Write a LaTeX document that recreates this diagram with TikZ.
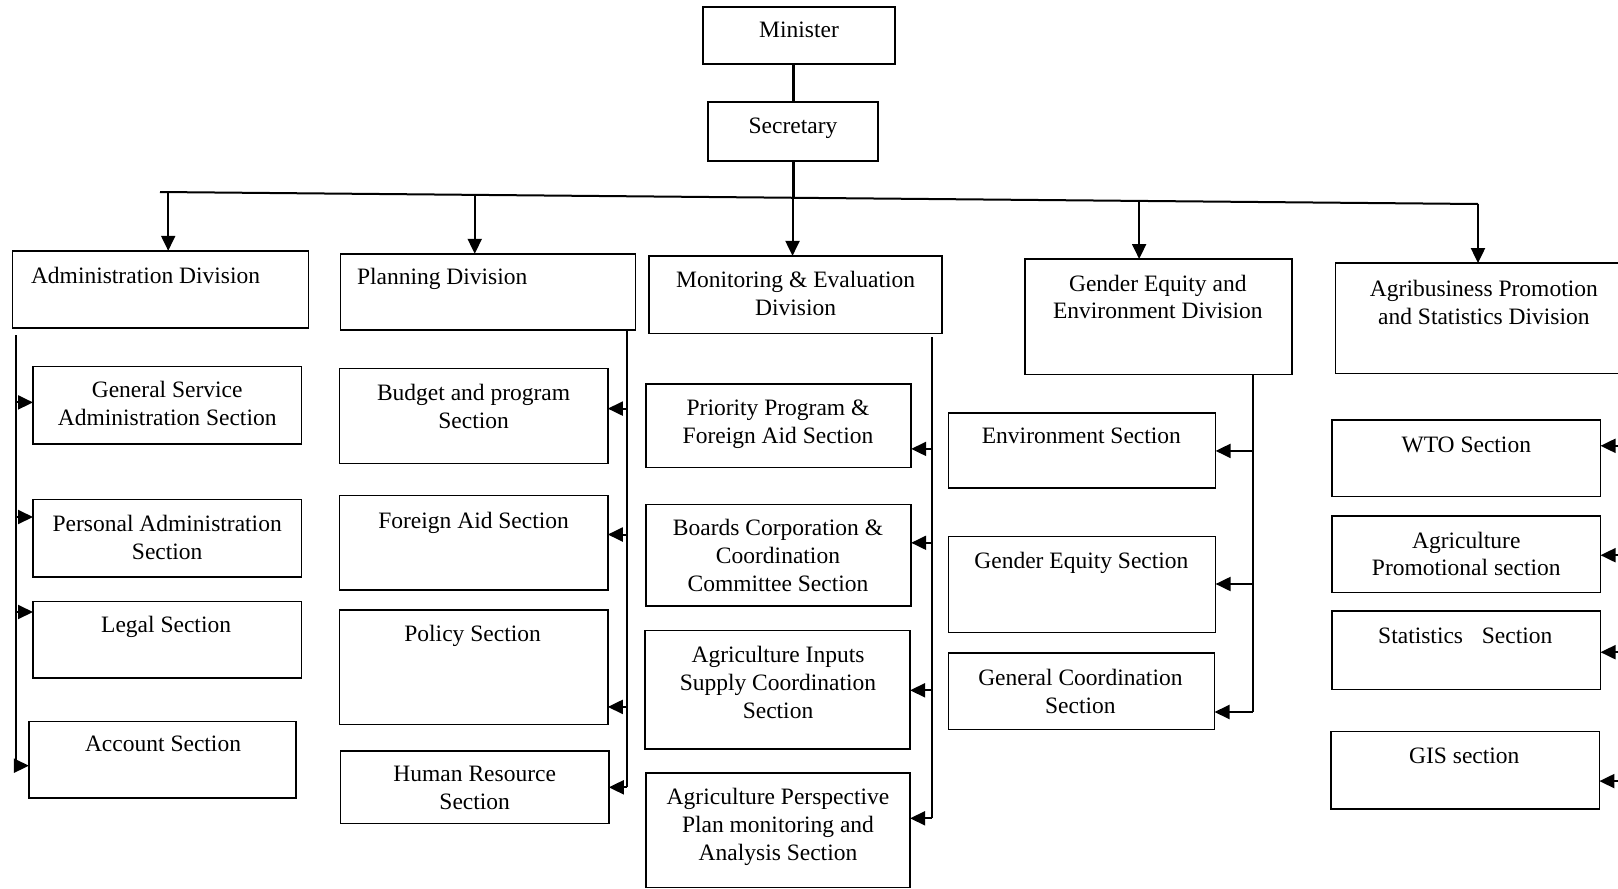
\documentclass[tikz,border=0pt]{standalone}
\usepackage{fontspec}
\setmainfont{Liberation Serif}
\usetikzlibrary{arrows.meta,calc}
\tikzset{
  boxst/.style={draw=black, line width=1.6pt, inner sep=0pt, outer sep=0pt},
  txt/.style={font=\fontsize{23.5}{27.9}\selectfont, align=center, inner sep=0pt, outer sep=0pt},
  ln/.style={line width=2pt},
  thick trunk/.style={line width=3pt},
  arr/.style={line width=2pt, -{Triangle[length=15pt,width=14pt]}},
}
% name, x1, y1, x2, y2, text x, text top y, text
\newcommand{\bx}[8]{%
  \node[boxst, anchor=north west, minimum width={(#4)-(#2)}, minimum height={(#5)-(#3)}] (#1) at (#2,#3) {};
  \node[txt, anchor=north] (#1t) at (#6,#7) {#8};
}
\begin{document}
\begin{tikzpicture}[x=1pt,y=-1pt]
\path[use as bounding box, fill=white] (0,0) rectangle (1618,889);

% top
\bx{min}{703}{7}{895}{64}{799}{22}{Minister}
\bx{sec}{708}{102}{878}{161}{793}{118}{Secretary}

% divisions
\node[boxst, anchor=north west, minimum width=296, minimum height=77] (adm) at (12.4,250.8) {};
\node[txt, anchor=north west] (admt) at (31,267.5) {Administration Division};
\node[boxst, anchor=north west, minimum width=295, minimum height=76.4] (pln) at (340.5,253.8) {};
\node[txt, anchor=north west] (plnt) at (357,268.5) {Planning Division};
\bx{mne}{649}{255.9}{942.1}{333.3}{795.6}{271.6}{Monitoring \& Evaluation\\Division}
\bx{gen}{1024.7}{259}{1292}{374.6}{1157.8}{274.7}{Gender Equity and\\Environment Division}
\bx{agr}{1335.3}{263.1}{1630}{373.5}{1483.9}{279.9}{Agribusiness Promotion\\and Statistics Division}

% bus
\coordinate (bl) at (160,192);
\coordinate (br) at (1478,204);
\draw[ln] (bl) -- (br);
\coordinate (b1) at ($(bl)!0.00622!(br)$);
\coordinate (b2) at ($(bl)!0.2388!(br)$);
\coordinate (b3) at ($(bl)!0.4799!(br)$);
\coordinate (b4) at ($(bl)!0.7429!(br)$);
\coordinate (b5) at (br);
\draw[thick trunk] (min.south -| sec.north) -- (sec.north);
\draw[thick trunk] (sec.south) -- (sec.south |- b3);
\draw[arr] (b1) -- (b1 |- adm.north);
\draw[arr] (b2) -- (b2 |- pln.north);
\draw[arr] (b3) -- (b3 |- mne.north);
\draw[arr] (b4) -- (b4 |- gen.north);
\draw[arr] (b5) -- (b5 |- agr.north);

% administration sections
\bx{gs}{33}{366.3}{301.3}{443.7}{167.2}{381}{General Service\\Administration Section}
\bx{pa}{33}{499.4}{301.3}{576.8}{167.2}{515.2}{Personal Administration\\Section}
\bx{lg}{33}{601.6}{301.3}{678}{166.1}{616.3}{Legal Section}
\bx{ac}{28.9}{721.3}{296.2}{797.7}{163}{736}{Account Section}
\coordinate (av0) at (15.5,335);
\coordinate (av1) at (15.5,768.8);
\draw[ln] (av0) -- (av1);
\coordinate (ta1) at (15.5,402.4);
\coordinate (ta2) at (15.5,517);
\coordinate (ta3) at (15.5,612);
\coordinate (ta4) at (15.5,765.7);
\draw[arr] (ta1) -- (ta1 -| gs.west);
\draw[arr] (ta2) -- (ta2 -| pa.west);
\draw[arr] (ta3) -- (ta3 -| lg.west);
\draw[arr] (ta4) -- (ta4 -| ac.west);

% planning sections
\bx{bp}{339.5}{368.4}{607.8}{463.3}{473.6}{384.1}{Budget and program\\Section}
\bx{fa}{339.5}{495.3}{607.8}{590.2}{473.6}{512}{Foreign Aid Section}
\bx{po}{339.5}{609.9}{607.8}{724.4}{472.6}{625.6}{Policy Section}
\bx{hr}{340.5}{751.2}{608.8}{823.5}{474.7}{766}{Human Resource\\Section}
\coordinate (pv0) at (627.4,330.2);
\coordinate (pv1) at (627.4,787.3);
\draw[ln] (pv0) -- (pv1);
\coordinate (tp1) at (627.4,408.6);
\coordinate (tp2) at (627.4,534.5);
\coordinate (tp3) at (627.4,706.9);
\coordinate (tp4) at (627.4,787.3);
\draw[arr] (tp1) -- (tp1 -| bp.east);
\draw[arr] (tp2) -- (tp2 -| fa.east);
\draw[arr] (tp3) -- (tp3 -| po.east);
\draw[arr] (tp4) -- (tp4 -| hr.east);

% monitoring sections
\bx{pp}{646}{383.9}{911.2}{467.4}{778}{399.6}{Priority Program \&\\Foreign Aid Section}
\bx{bc}{646}{504.6}{911.2}{605.7}{778}{519.3}{Boards Corporation \&\\Coordination\\Committee Section}
\bx{ai}{645}{630.5}{910.1}{749.2}{778}{646.2}{Agriculture Inputs\\Supply Coordination\\Section}
\bx{ap}{646}{772.9}{910.1}{887.5}{778}{788.6}{Agriculture Perspective\\Plan monitoring and\\Analysis Section}
\coordinate (mv0) at (931.8,337.4);
\coordinate (mv1) at (931.8,818.3);
\draw[ln] (mv0) -- (mv1);
\coordinate (tm1) at (931.8,448.9);
\coordinate (tm2) at (931.8,542.8);
\coordinate (tm3) at (931.8,690.3);
\coordinate (tm4) at (931.8,818.3);
\draw[arr] (tm1) -- (tm1 -| pp.east);
\draw[arr] (tm2) -- (tm2 -| bc.east);
\draw[arr] (tm3) -- (tm3 -| ai.east);
\draw[arr] (tm4) -- (tm4 -| ap.east);

% gender sections
\bx{en}{948.3}{412.8}{1215.6}{488.1}{1081.4}{427.5}{Environment Section}
\bx{ge}{948.3}{536.6}{1215.6}{632.6}{1081.4}{552.3}{Gender Equity Section}
\bx{gc}{948.3}{653.2}{1214.5}{729.6}{1080.4}{668.9}{General Coordination\\Section}
\coordinate (gv0) at (1252.7,374.6);
\coordinate (gv1) at (1252.7,712);
\draw[ln] (gv0) -- (gv1);
\coordinate (tg1) at (1252.7,450.9);
\coordinate (tg2) at (1252.7,584);
\coordinate (tg3) at (1252.7,712);
\draw[arr] (tg1) -- (tg1 -| en.east);
\draw[arr] (tg2) -- (tg2 -| ge.east);
\draw[arr] (tg3) -- (tg3 -| gc.east);

% agribusiness sections
\bx{wt}{1332.2}{420}{1600.5}{496.3}{1466.3}{436.7}{WTO Section}
\bx{apr}{1332.2}{516}{1600.5}{592.3}{1466.3}{531.7}{Agriculture\\Promotional section}
\bx{st}{1332.2}{610.9}{1600.5}{689.3}{1465.3}{627.7}{Statistics\hspace{0.8em}Section}
\bx{gis}{1331.2}{731.6}{1599.4}{809}{1464.3}{748.4}{GIS section}
\coordinate (rv0) at (1632,380);
\coordinate (rv1) at (1632,781.1);
\draw[ln] (rv0) -- (rv1);
\coordinate (tr1) at (1632,445.8);
\coordinate (tr2) at (1632,555.2);
\coordinate (tr3) at (1632,652.2);
\coordinate (tr4) at (1632,781.1);
\draw[arr] (tr1) -- (tr1 -| wt.east);
\draw[arr] (tr2) -- (tr2 -| apr.east);
\draw[arr] (tr3) -- (tr3 -| st.east);
\draw[arr] (tr4) -- (tr4 -| gis.east);
\end{tikzpicture}
\end{document}
